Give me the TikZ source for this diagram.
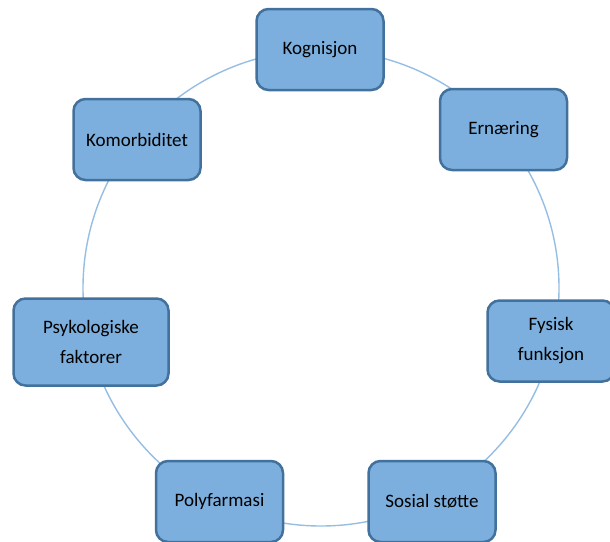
\documentclass[tikz,border=0pt]{standalone}
\usepackage{fontspec}
\setmainfont{Carlito}
\usepackage{xcolor}
\definecolor{boxfill}{RGB}{124,175,221}
\definecolor{boxline}{RGB}{65,113,156}
\definecolor{ringline}{RGB}{150,190,228}

\begin{document}
\begin{tikzpicture}[x=1pt,y=-1pt,
    factor/.style={draw=boxline,fill=boxfill,line width=2.5pt,
      rounded corners=12pt,minimum width=127pt,minimum height=81pt,
      inner sep=0pt,align=center,font=\fontsize{19}{30}\selectfont}]
  \useasboundingbox (0,0) rectangle (610,541);
  % the ring sits behind the seven boxes
  \draw[ringline,line width=1.4pt] (321,288) circle[radius=238];
  \node[factor] (kog)  at (320,49.5)    {Kognisjon};
  \node[factor] (ern)  at (503.5,129.5) {Ernæring};
  \node[factor] (fys)  at (551,341)     {Fysisk\\funksjon};
  \node[factor] (sos)  at (432,501.5)   {Sosial støtte};
  \node[factor] (poly) at (219.5,501.5) {Polyfarmasi};
  \node[factor,minimum width=155pt,minimum height=87pt]
                (psyk) at (91,342)      {Psykologiske\\faktorer};
  \node[factor] (kom)  at (137,139.5)   {Komorbiditet};
\end{tikzpicture}
\end{document}
